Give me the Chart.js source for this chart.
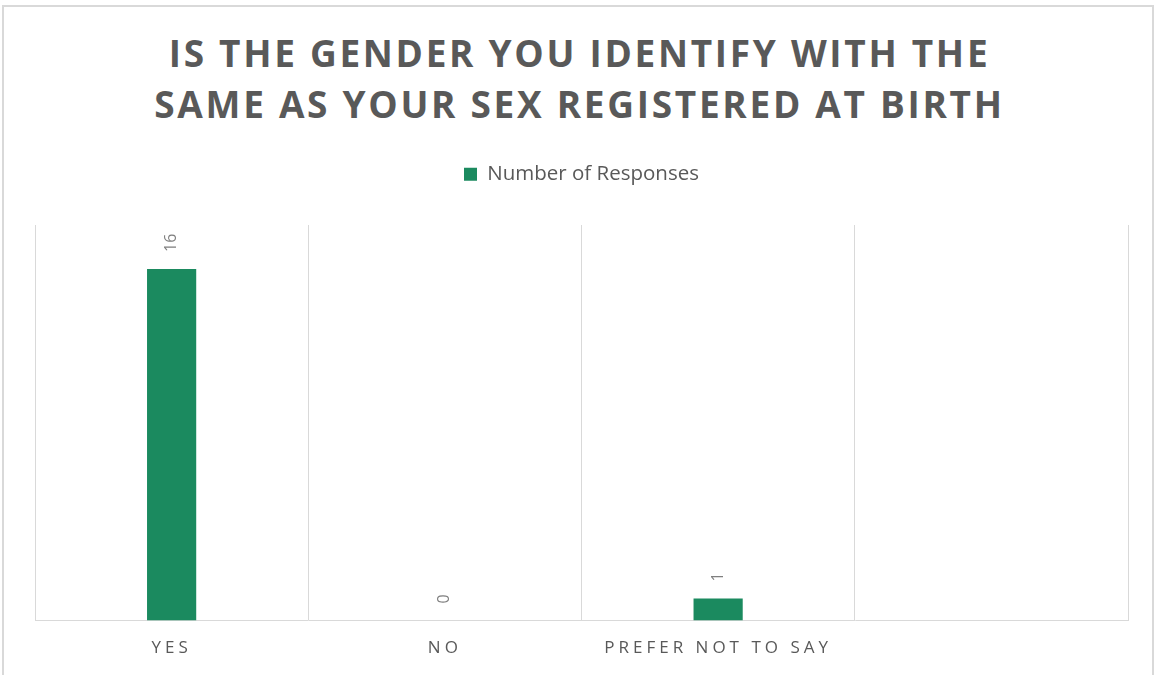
<!DOCTYPE html>
<html>
<head>
<meta charset="utf-8">
<title>Gender identity survey</title>
<script src="https://cdn.jsdelivr.net/npm/chart.js@4.4.1/dist/chart.umd.min.js"></script>
<style>
  html, body { margin: 0; padding: 0; background: #fff; }
  body { width: 1159px; height: 675px; position: relative; overflow: hidden; font-family: "Open Sans", sans-serif; }
  #frame {
    position: absolute; left: 2px; top: 5px; width: 1152px; height: 700px;
    border: 2px solid #d9d9d9; box-sizing: border-box;
  }
  #title {
    position: absolute; left: 0; top: 27px; width: 1159px; text-align: center;
    font-family: "Open Sans", sans-serif; font-weight: 700; font-size: 37px;
    line-height: 51px; letter-spacing: 2.7px; color: #595959;
  }
  #chart { position: absolute; left: 0; top: 0; }
</style>
</head>
<body>
<div id="frame"></div>
<div id="title">IS THE GENDER YOU IDENTIFY WITH THE<br>SAME AS YOUR SEX REGISTERED AT BIRTH</div>
<canvas id="chart" width="1159" height="675"></canvas>
<script>
// chart data
const categories = ['YES', 'NO', 'PREFER NOT TO SAY', ''];
const responses = [16, 0, 1, null];
const seriesName = 'Number of Responses';
const yMax = 18;

const barGreen = '#1b8a5f';
const gridGray = '#d9d9d9';
const textGray = '#595959';

// category axis that can space out its letters (Excel style)
class SpacedCategoryScale extends Chart.CategoryScale {
    drawLabels(area) {
        const ctx = this.ctx;
        ctx.save();
        ctx.letterSpacing = this.options.letterSpacing || '0px';
        super.drawLabels(area);
        ctx.restore();
    }
}
SpacedCategoryScale.id = 'spacedCategory';
SpacedCategoryScale.defaults = Chart.CategoryScale.defaults;
Chart.register(SpacedCategoryScale);

// extra room under the legend
const legendGap = {
    id: 'legendGap',
    beforeInit(chart, args, opts) {
        const fit = chart.legend.fit;
        chart.legend.fit = function () {
            fit.call(this);
            this.height += opts.gap;
        };
    }
};

// value labels, rotated, above each bar
const barLabels = {
    id: 'barLabels',
    afterDatasetsDraw(chart, args, opts) {
        const ctx = chart.ctx;
        const meta = chart.getDatasetMeta(0);
        const data = chart.data.datasets[0].data;
        ctx.save();
        ctx.font = '16px "Open Sans"';
        ctx.fillStyle = opts.color;
        ctx.textAlign = 'left';
        ctx.textBaseline = 'middle';
        meta.data.forEach((bar, i) => {
            if (data[i] === null || data[i] === undefined) return;
            ctx.save();
            ctx.translate(bar.x, bar.y - opts.offset);
            ctx.rotate(-Math.PI / 2);
            ctx.fillText(String(data[i]), 0, 0);
            ctx.restore();
        });
        ctx.restore();
    }
};

function drawChart() {
    Chart.defaults.font.family = '"Open Sans", sans-serif';
    Chart.defaults.color = textGray;

    new Chart(document.getElementById('chart'), {
        type: 'bar',
        data: {
            labels: categories,
            datasets: [{
                label: seriesName,
                data: responses,
                backgroundColor: barGreen,
                borderWidth: 0,
                categoryPercentage: 1,
                barPercentage: 0.18
            }]
        },
        options: {
            responsive: false,
            animation: false,
            layout: { padding: { top: 154, left: 35, right: 31, bottom: 0 } },
            plugins: {
                title: { display: false },
                tooltip: { enabled: false },
                legend: {
                    position: 'top',
                    labels: {
                        boxWidth: 13, boxHeight: 13, padding: 10,
                        color: textGray,
                        font: { size: 20.5 }
                    }
                },
                legendGap: { gap: 30.5 },
                barLabels: { color: '#7f7f7f', offset: 17 }
            },
            scales: {
                x: {
                    type: 'spacedCategory',
                    letterSpacing: '4px',
                    offset: true,
                    grid: { display: true, offset: true, color: gridGray, lineWidth: 1, drawTicks: false },
                    border: { display: true, color: gridGray, width: 1 },
                    ticks: {
                        autoSkip: false, maxRotation: 0, padding: 17,
                        color: textGray, font: { size: 17 }
                    }
                },
                y: {
                    display: false,
                    min: 0,
                    max: yMax
                }
            }
        },
        plugins: [legendGap, barLabels]
    });
}

Promise.all([
    document.fonts.load('17px "Open Sans"'),
    document.fonts.load('bold 37px "Open Sans"')
]).then(drawChart, drawChart);
</script>
</body>
</html>
